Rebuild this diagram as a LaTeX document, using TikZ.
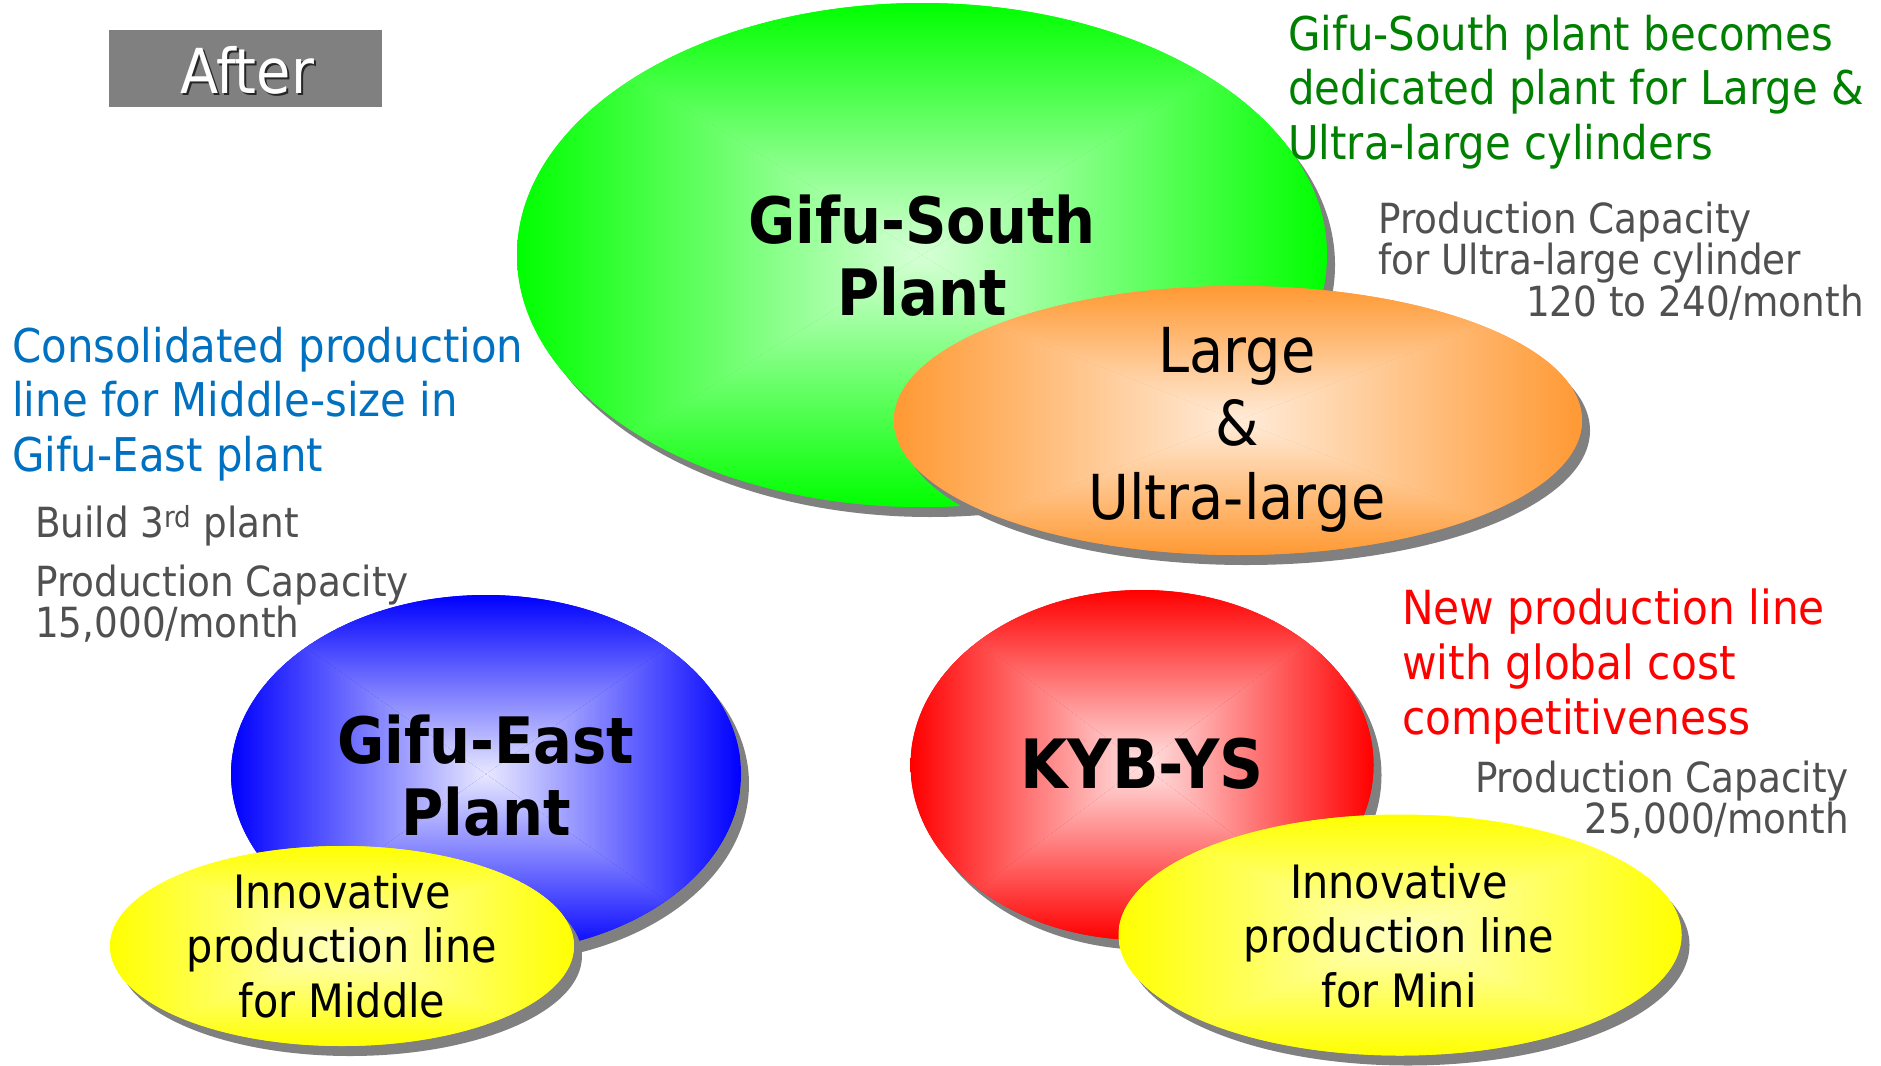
\documentclass[tikz,border=0pt]{standalone}
\usepackage{fontspec}
\setmainfont{DejaVu Sans}[FakeStretch=0.9]
\usetikzlibrary{shapes.geometric,shadows}
\definecolor{shgrey}{RGB}{128,128,128}
\definecolor{txtgrey}{RGB}{80,80,80}
\definecolor{notegreen}{RGB}{0,128,0}
\definecolor{noteblue}{RGB}{0,112,192}
\definecolor{notered}{RGB}{255,0,0}
\definecolor{gOut}{RGB}{0,255,0}\definecolor{gIn}{RGB}{215,255,215}
\definecolor{oOut}{RGB}{255,153,51}\definecolor{oIn}{RGB}{255,236,218}
\definecolor{bOut}{RGB}{0,0,255}\definecolor{bIn}{RGB}{232,232,255}
\definecolor{rOut}{RGB}{255,0,0}\definecolor{rIn}{RGB}{255,228,228}
\definecolor{yOut}{RGB}{255,255,0}\definecolor{yIn}{RGB}{255,255,195}
\tikzset{
  blob/.style 2 args={ellipse, inner sep=0pt, outer sep=0pt,
    general shadow={fill=shgrey, shadow xshift=8pt, shadow yshift=-10pt},
    path picture={
      \fill[#2] (path picture bounding box.south west) rectangle (path picture bounding box.north east);
      \shade[top color=#2, bottom color=#1] (path picture bounding box.center) -- (path picture bounding box.north west) -- (path picture bounding box.north east) -- cycle;
      \shade[top color=#1, bottom color=#2] (path picture bounding box.center) -- (path picture bounding box.south west) -- (path picture bounding box.south east) -- cycle;
      \shade[left color=#2, right color=#1] (path picture bounding box.center) -- (path picture bounding box.north west) -- (path picture bounding box.south west) -- cycle;
      \shade[left color=#1, right color=#2] (path picture bounding box.center) -- (path picture bounding box.north east) -- (path picture bounding box.south east) -- cycle;
    }},
  titletxt/.style={align=center, inner sep=0pt, anchor=base, font=\fontsize{64}{72}\selectfont\bfseries},
  innertxt/.style={align=center, inner sep=0pt, anchor=base, font=\fontsize{46}{54.5}\selectfont},
  notetxt/.style={align=left, inner sep=0pt, anchor=base west, font=\fontsize{46.5}{54.5}\selectfont},
  captxt/.style={inner sep=0pt, text=txtgrey, font=\fontsize{41.5}{41}\selectfont}
}
\begin{document}
\begin{tikzpicture}[x=1pt,y=-1pt]
\useasboundingbox (0,0) rectangle (1881,1065);
% After box
\node[fill=shgrey, minimum width=273pt, minimum height=77pt, inner sep=0pt] (afterbox) at (245.5,68.5) {};
\node[inner sep=0pt, anchor=base, text=black!85, font=\fontsize{62}{70}\selectfont] (aftershadow) at (249,95) {After};
\node[inner sep=0pt, anchor=base, text=white, font=\fontsize{62}{70}\selectfont] (aftertxt) at (247,93) {After};
% Gifu-South
\node[blob={gIn}{gOut}, minimum width=810pt, minimum height=504pt] (south) at (922,255) {};
\node[titletxt] (southtxt) at (922,315) {Gifu-South\\Plant};
\node[blob={oIn}{oOut}, minimum width=688pt, minimum height=269pt] (large) at (1238,420.5) {};
\node[align=center, inner sep=0pt, anchor=base, font=\fontsize{62}{73.5}\selectfont] (largetxt) at (1237,519) {Large\\\&\\Ultra-large};
% Gifu-East
\node[blob={bIn}{bOut}, minimum width=510pt, minimum height=358pt] (east) at (486,774) {};
\node[titletxt] (easttxt) at (486,835) {Gifu-East\\Plant};
\node[blob={yIn}{yOut}, minimum width=464pt, minimum height=200pt] (middle) at (342,946) {};
\node[innertxt] (middletxt) at (342,1017) {Innovative\\production line\\for Middle};
% KYB-YS
\node[blob={rIn}{rOut}, minimum width=463pt, minimum height=350pt] (kyb) at (1142,765) {};
\node[titletxt, font=\fontsize{68}{72}\selectfont\bfseries] (kybtxt) at (1142,788) {KYB-YS};
\node[blob={yIn}{yOut}, minimum width=563pt, minimum height=241pt] (mini) at (1400,935) {};
\node[innertxt] (minitxt) at (1399,1007) {Innovative\\production line\\for Mini};
% notes
\node[notetxt, text=notegreen] (greennote) at (1288,159) {Gifu-South plant becomes\\dedicated plant for Large \&\\Ultra-large cylinders};
\node[captxt, align=left, anchor=base west] (capsouth) at (1378,274) {Production Capacity\\for Ultra-large cylinder};
\node[captxt, anchor=base east] (capsouthnum) at (1864,316) {120 to 240/month};
\node[notetxt, text=noteblue] (bluenote) at (12,471) {Consolidated production\\line for Middle-size in\\Gifu-East plant};
\node[captxt, anchor=base west] (build) at (35,537) {Build 3\textsuperscript{rd} plant};
\node[captxt, align=left, anchor=base west] (capeast) at (35,637) {Production Capacity\\15,000/month};
\node[notetxt, text=notered, font=\fontsize{47}{55}\selectfont] (rednote) at (1402,734) {New production line\\with global cost\\competitiveness};
\node[captxt, align=right, anchor=base east] (capkyb) at (1849,833) {Production Capacity\\25,000/month};
\end{tikzpicture}
\end{document}
